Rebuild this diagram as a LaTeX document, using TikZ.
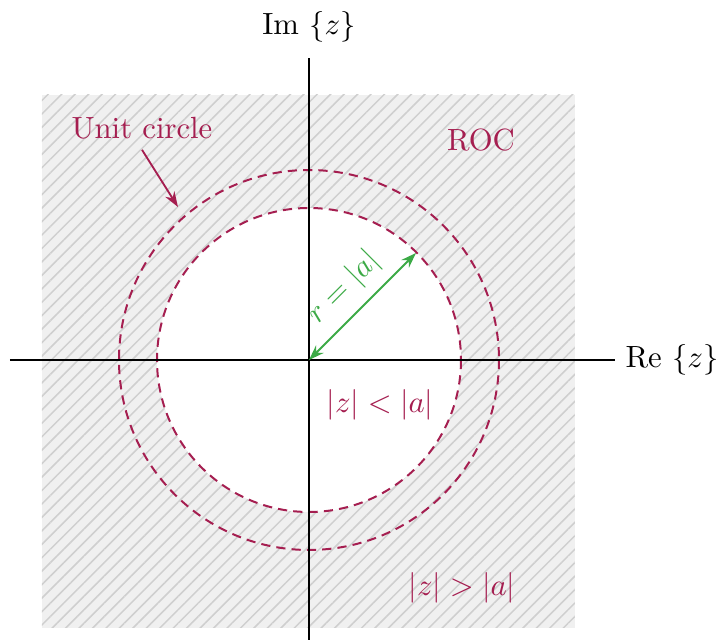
\documentclass[tikz,border=0pt]{standalone}
\usetikzlibrary{patterns.meta,arrows.meta}
\definecolor{roc}{RGB}{165,30,80}
\definecolor{rgreen}{RGB}{60,170,70}
\begin{document}
\begin{tikzpicture}[x=0.326pt,y=-0.326pt,
  axis/.style={line width=0.8pt,black},
  circ/.style={roc,line width=0.65pt,dash pattern=on 3pt off 2pt},
  lab/.style={text=roc}]
\useasboundingbox (0,0) rectangle (720,640);
% ROC region
\fill[gray!12] (42,95) rectangle (575,628);
\fill[pattern={Lines[angle=45,distance=3.1pt,line width=0.5pt]},pattern color=gray!38] (42,95) rectangle (575,628);
\coordinate (O) at (309,360);
\fill[white] (O) circle[radius=152];
\draw[circ] (O) circle[radius=152];
\draw[circ] (O) circle[radius=190];
% axes
\coordinate (xl) at (10,360);
\coordinate (xr) at (615,360);
\coordinate (yt) at (309,58);
\coordinate (yb) at (309,640);
\draw[axis] (xl) -- (xr);
\draw[axis] (yb) -- (yt);
\node (re) at (672,360) {$\mathrm{Re}\,\left\{z\right\}$};
\node (im) at (309,27) {$\mathrm{Im}\,\left\{z\right\}$};
% radius arrow
\coordinate (P) at (416,253);
\draw[rgreen,line width=0.6pt,{Stealth[length=5pt,width=3.5pt]}-{Stealth[length=5pt,width=3.5pt]}] (O) -- node[midway,above,sloped,text=rgreen] (rl) {$r=|a|$} (P);
% labels
\node[lab] (uc) at (142,128) {Unit circle};
\coordinate (ucp) at (178,207);
\draw[roc,line width=0.6pt,-{Stealth[length=5pt,width=3.5pt]}] (uc.south) -- (ucp);
\node[lab] (roclab) at (481,140) {ROC};
\node[lab] (inner) at (380,405) {$|z|<|a|$};
\node[lab] (outer) at (462,588) {$|z|>|a|$};
\end{tikzpicture}
\end{document}
